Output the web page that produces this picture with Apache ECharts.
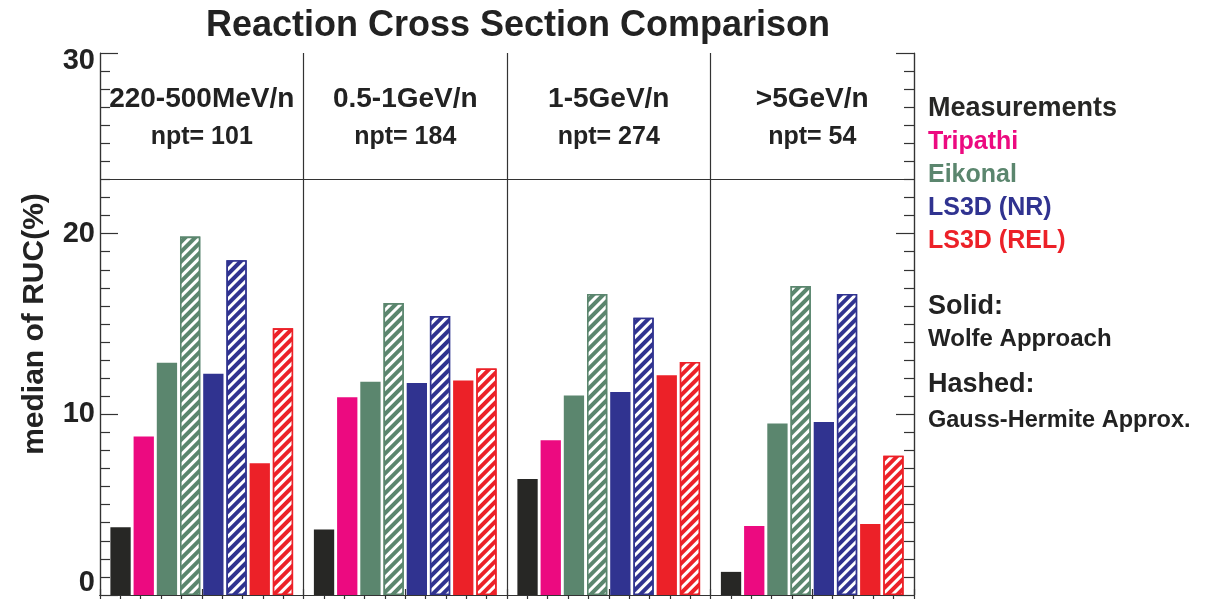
<!DOCTYPE html>
<html>
<head>
<meta charset="utf-8">
<script src="https://cdn.jsdelivr.net/npm/echarts@6/dist/echarts.min.js"></script>
<style>
html,body{margin:0;padding:0;background:#fff;}
#chart{width:1214px;height:599px;}
</style>
</head>
<body>
<div id="chart"></div>
<script>
// ---- data ----
const titleText = 'Reaction Cross Section Comparison';
const yAxisName = 'median of RUC(%)';
const categories = ['220-500MeV/n', '0.5-1GeV/n', '1-5GeV/n', '>5GeV/n'];
const npt = [101, 184, 274, 54];
const measurements = [3.75, 3.62, 6.42, 1.28];
const tripathi = [8.77, 10.95, 8.57, 3.82];
const eikonalWolfe = [12.85, 11.80, 11.04, 9.49];
const eikonalGH = [19.84, 16.16, 16.66, 17.10];
const ls3dNRWolfe = [12.24, 11.73, 11.23, 9.57];
const ls3dNRGH = [18.53, 15.44, 15.35, 16.66];
const ls3dRELWolfe = [7.29, 11.87, 12.17, 3.93];
const ls3dRELGH = [14.76, 12.54, 12.90, 7.71];
const yMin = 0, yMax = 30, yStep = 10;
const headerLine = 23;
const legendNames = ['Measurements', 'Tripathi', 'Eikonal', 'LS3D (NR)', 'LS3D (REL)'];
const noteLines = ['Solid:', 'Wolfe Approach', 'Hashed:', 'Gauss-Hermite Approx.'];

// ---- styles ----
const FONT = '"Liberation Sans", Arial, Helvetica, sans-serif';
const C = {
  black: '#272725', magenta: '#EC0A80', green: '#5B866E', blue: '#303390', red: '#EC2128', text: '#222222', axis: '#333333'
};
const BW = 20.3, GAP = '14.3%';

function solid(name, data, color) {
  return { name, type: 'bar', xAxisIndex: 0, yAxisIndex: 0, data, barWidth: BW, barGap: GAP,
    itemStyle: { color }, z: 3 };
}
function hashed(name, data, color) {
  return { name, type: 'bar', xAxisIndex: 0, yAxisIndex: 0, data, barWidth: BW, barGap: GAP,
    itemStyle: { color, borderColor: color, borderWidth: 1.6,
      decal: { symbol: 'rect', symbolSize: 1, color: '#ffffff', dashArrayX: [1, 0], dashArrayY: [3, 3.2], rotation: -Math.PI / 4 } },
    z: 3 };
}

const series = [
  solid('Measurements', measurements, C.black),
  solid('Tripathi', tripathi, C.magenta),
  solid('Eikonal', eikonalWolfe, C.green),
  hashed('Eikonal (Gauss-Hermite)', eikonalGH, C.green),
  solid('LS3D (NR)', ls3dNRWolfe, C.blue),
  hashed('LS3D (NR) (Gauss-Hermite)', ls3dNRGH, C.blue),
  solid('LS3D (REL)', ls3dRELWolfe, C.red),
  hashed('LS3D (REL) (Gauss-Hermite)', ls3dRELGH, C.red)
];
series[0].markLine = {
  silent: true, symbol: 'none', label: { show: false },
  lineStyle: { color: C.axis, type: 'solid', width: 1.2 },
  data: [{ yAxis: headerLine }]
};

const legendColors = [C.black, C.magenta, C.green, C.blue, C.red];
const gridRect = { left: 100, right: 300, top: 53, bottom: 4 };

const yAxisBase = (pos, showLabel) => ({
  type: 'value', gridIndex: 0, position: pos, min: yMin, max: yMax, interval: yStep,
  axisLine: { show: true, lineStyle: { color: C.axis, width: 1.2 } },
  axisTick: { show: true, inside: true, length: 18, lineStyle: { color: C.axis, width: 1.2 } },
  minorTick: { show: true, splitNumber: 10, length: 10, lineStyle: { color: C.axis, width: 1.2 } },
  splitLine: { show: false },
  axisLabel: showLabel ? {
    show: true, margin: 5, fontFamily: FONT,
    formatter: v => v === yMin ? '{lo|' + v + '}' : (v === yMax ? '{hi|' + v + '}' : '{n|' + v + '}'),
    rich: {
      n: { fontSize: 29, fontWeight: 'bold', color: C.text, fontFamily: FONT },
      lo: { fontSize: 29, fontWeight: 'bold', color: C.text, fontFamily: FONT, padding: [0, 0, 24, 0] },
      hi: { fontSize: 29, fontWeight: 'bold', color: C.text, fontFamily: FONT, padding: [16, 0, 0, 0] }
    }
  } : { show: false }
});

const tickAxis = (pos) => ({
  type: 'value', gridIndex: 1, position: pos, min: 0, max: categories.length, interval: 0.1,
  axisLine: { show: true, lineStyle: { color: C.axis, width: 1.2 } },
  axisTick: { show: true, inside: true, length: 6, lineStyle: { color: C.axis, width: 1.2 } },
  axisLabel: { show: false }, splitLine: { show: false }
});

const option = {
  backgroundColor: '#ffffff',
  animation: false,
  title: {
    text: titleText, left: 513, textAlign: 'center', top: 3,
    textStyle: { fontFamily: FONT, fontSize: 36, fontWeight: 'bold', color: C.text }
  },
  legend: {
    orient: 'vertical', left: 918, top: 89, icon: 'none', itemWidth: 0, itemHeight: 0, itemGap: 3,
    selectedMode: false,
    data: legendNames.map((n, i) => ({
      name: n,
      textStyle: { color: legendColors[i], fontSize: i === 0 ? 27 : 25, fontWeight: 'bold', fontFamily: FONT, lineHeight: 30 }
    }))
  },
  grid: [Object.assign({}, gridRect), Object.assign({}, gridRect)],
  xAxis: [
    {
      type: 'category', gridIndex: 0, position: 'top', data: categories,
      axisLine: { show: true, lineStyle: { color: C.axis, width: 1.2 } },
      axisTick: { show: false },
      splitLine: { show: true, interval: 0, lineStyle: { color: C.axis, width: 1.2 } },
      axisLabel: {
        show: true, inside: true, interval: 0, margin: 27,
        formatter: (v, i) => '{a|' + v + '}\n{b|npt= ' + npt[i] + '}',
        rich: {
          a: { fontSize: 28, fontWeight: 'bold', color: C.text, fontFamily: FONT, lineHeight: 38, align: 'center' },
          b: { fontSize: 25, fontWeight: 'bold', color: C.text, fontFamily: FONT, lineHeight: 38, align: 'center' }
        }
      }
    },
    tickAxis('top'),
    tickAxis('bottom')
  ],
  yAxis: [
    Object.assign(yAxisBase('left', true), {
      name: yAxisName, nameLocation: 'middle', nameGap: 50, nameRotate: 90,
      nameTextStyle: { fontFamily: FONT, fontSize: 30, fontWeight: 'bold', color: C.text }
    }),
    yAxisBase('right', false),
    { type: 'value', gridIndex: 1, min: 0, max: 1, show: false }
  ],
  graphic: [
    { type: 'text', left: 928, top: 293, style: { text: noteLines[0], font: 'bold 27px ' + FONT, fill: C.text } },
    { type: 'text', left: 928, top: 327, style: { text: noteLines[1], font: 'bold 24px ' + FONT, fill: C.text } },
    { type: 'text', left: 928, top: 371, style: { text: noteLines[2], font: 'bold 27px ' + FONT, fill: C.text } },
    { type: 'text', left: 928, top: 409, style: { text: noteLines[3], font: 'bold 23.5px ' + FONT, fill: C.text } }
  ],
  series
};

const chart = echarts.init(document.getElementById('chart'), null, { renderer: 'canvas' });
chart.setOption(option);
</script>
</body>
</html>
